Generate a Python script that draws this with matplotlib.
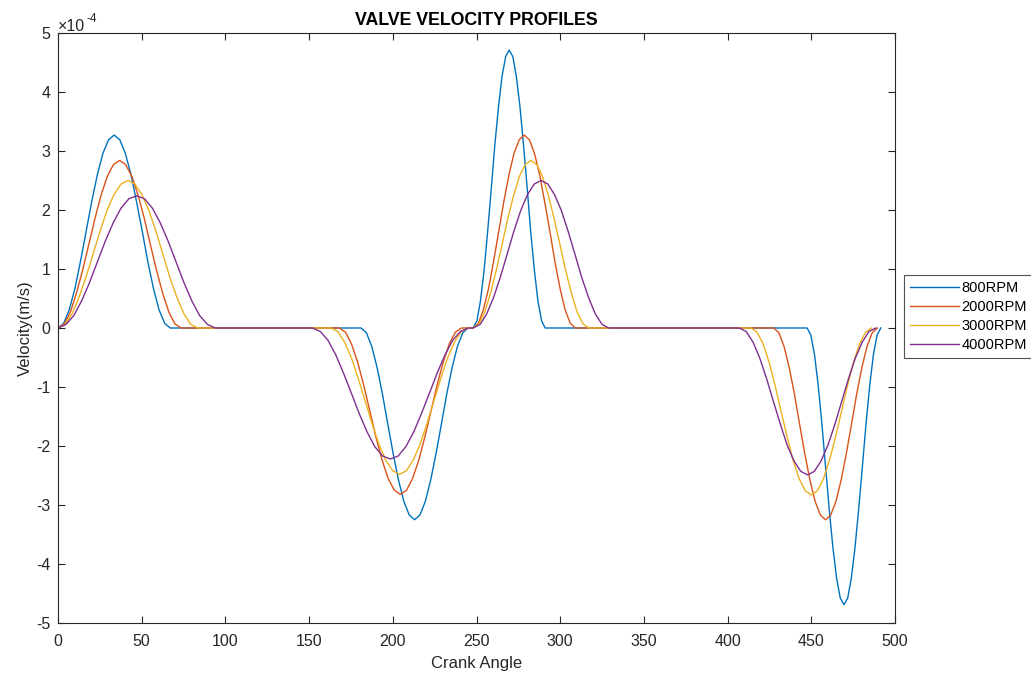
import matplotlib
import matplotlib.pyplot as plt
import numpy as np
from matplotlib.ticker import FuncFormatter

matplotlib.use("Agg")

plt.rcParams["font.family"] = ["Liberation Sans", "DejaVu Sans"]
plt.rcParams["axes.unicode_minus"] = False

# crank angle [deg] and valve velocity [1e-4 m/s]
angle_800 = [0, 3.4, 6.7, 10.1, 13.4, 16.8, 20.1, 23.5, 26.8, 30.2, 33.5, 36.9, 40.2, 43.6, 46.9, 50.3, 53.6, 57, 60.3, 63.7, 67,
             181, 184.2, 187.4, 190.6, 193.8, 197, 200.2, 203.4, 206.6, 209.8, 213, 216.2, 219.4, 222.6, 225.8, 229, 232.2, 235.4, 238.6, 241.8, 245,
             248, 250.2, 252.3, 254.5, 256.6, 258.8, 260.9, 263.1, 265.2, 267.4, 269.5, 271.7, 273.8, 276, 278.1, 280.3, 282.4, 284.6, 286.7, 288.9, 291,
             447.5, 449.7, 451.9, 454.1, 456.3, 458.5, 460.7, 462.9, 465.1, 467.3, 469.5, 471.7, 473.9, 476.1, 478.3, 480.5, 482.7, 484.9, 487.1, 489.3, 491.5]
vel_800 = [0, 0.08, 0.31, 0.67, 1.13, 1.64, 2.14, 2.60, 2.96, 3.19, 3.27, 3.19, 2.96, 2.60, 2.14, 1.64, 1.13, 0.67, 0.31, 0.08, 0,
           0, -0.08, -0.31, -0.67, -1.12, -1.63, -2.13, -2.58, -2.94, -3.17, -3.25, -3.17, -2.94, -2.58, -2.13, -1.63, -1.12, -0.67, -0.31, -0.08, 0,
           0, 0.12, 0.45, 0.97, 1.62, 2.36, 3.09, 3.74, 4.26, 4.60, 4.71, 4.60, 4.26, 3.74, 3.09, 2.36, 1.62, 0.97, 0.45, 0.12, 0,
           0, -0.12, -0.45, -0.97, -1.62, -2.35, -3.07, -3.72, -4.24, -4.58, -4.69, -4.58, -4.24, -3.72, -3.07, -2.35, -1.62, -0.97, -0.45, -0.12, 0]

angle_2000 = [0, 3.7, 7.4, 11, 14.7, 18.4, 22.1, 25.7, 29.4, 33.1, 36.8, 40.4, 44.1, 47.8, 51.5, 55.1, 58.8, 62.5, 66.2, 69.8, 73.5,
              168, 171.7, 175.3, 179, 182.6, 186.3, 189.9, 193.6, 197.2, 200.9, 204.5, 208.2, 211.8, 215.5, 219.1, 222.8, 226.4, 230.1, 233.7, 237.4, 241,
              248, 251.1, 254.1, 257.2, 260.2, 263.3, 266.3, 269.4, 272.4, 275.5, 278.5, 281.6, 284.6, 287.7, 290.7, 293.8, 296.8, 299.9, 302.9, 306, 309,
              427.5, 430.6, 433.7, 436.8, 439.9, 443, 446.1, 449.2, 452.3, 455.4, 458.5, 461.6, 464.7, 467.8, 470.9, 474, 477.1, 480.2, 483.3, 486.4, 489.5]
vel_2000 = [0, 0.07, 0.27, 0.59, 0.98, 1.42, 1.86, 2.25, 2.57, 2.77, 2.84, 2.77, 2.57, 2.25, 1.86, 1.42, 0.98, 0.59, 0.27, 0.07, 0,
            0, -0.07, -0.27, -0.58, -0.97, -1.41, -1.85, -2.24, -2.55, -2.75, -2.82, -2.75, -2.55, -2.24, -1.85, -1.41, -0.97, -0.58, -0.27, -0.07, 0,
            0, 0.08, 0.31, 0.67, 1.13, 1.64, 2.14, 2.60, 2.96, 3.19, 3.27, 3.19, 2.96, 2.60, 2.14, 1.64, 1.13, 0.67, 0.31, 0.08, 0,
            0, -0.08, -0.31, -0.67, -1.12, -1.63, -2.13, -2.58, -2.94, -3.17, -3.25, -3.17, -2.94, -2.58, -2.13, -1.63, -1.12, -0.67, -0.31, -0.08, 0]

angle_3000 = [0, 4.2, 8.4, 12.5, 16.7, 20.9, 25.1, 29.2, 33.4, 37.6, 41.8, 45.9, 50.1, 54.3, 58.5, 62.6, 66.8, 71, 75.2, 79.3, 83.5,
              163, 167.1, 171.2, 175.3, 179.4, 183.5, 187.6, 191.7, 195.8, 199.9, 204, 208.1, 212.2, 216.3, 220.4, 224.5, 228.6, 232.7, 236.8, 240.9, 245,
              248, 251.5, 254.9, 258.4, 261.8, 265.3, 268.7, 272.2, 275.6, 279.1, 282.5, 286, 289.4, 292.9, 296.3, 299.8, 303.2, 306.7, 310.1, 313.6, 317,
              414, 417.6, 421.2, 424.8, 428.4, 432, 435.6, 439.2, 442.8, 446.4, 450, 453.6, 457.2, 460.8, 464.4, 468, 471.6, 475.2, 478.8, 482.4, 486]
vel_3000 = [0, 0.06, 0.24, 0.52, 0.86, 1.25, 1.64, 1.99, 2.26, 2.44, 2.50, 2.44, 2.26, 1.99, 1.64, 1.25, 0.86, 0.52, 0.24, 0.06, 0,
            0, -0.06, -0.24, -0.51, -0.86, -1.24, -1.62, -1.97, -2.24, -2.42, -2.48, -2.42, -2.24, -1.97, -1.62, -1.24, -0.86, -0.51, -0.24, -0.06, 0,
            0, 0.07, 0.27, 0.59, 0.98, 1.42, 1.86, 2.25, 2.57, 2.77, 2.84, 2.77, 2.57, 2.25, 1.86, 1.42, 0.98, 0.59, 0.27, 0.07, 0,
            0, -0.07, -0.27, -0.58, -0.98, -1.42, -1.85, -2.25, -2.56, -2.76, -2.83, -2.76, -2.56, -2.25, -1.85, -1.42, -0.98, -0.58, -0.27, -0.07, 0]

angle_4000 = [0, 4.7, 9.4, 14.1, 18.8, 23.5, 28.2, 32.9, 37.6, 42.3, 47, 51.7, 56.4, 61.1, 65.8, 70.5, 75.2, 79.9, 84.6, 89.3, 94,
              152, 156.7, 161.3, 166, 170.6, 175.3, 179.9, 184.6, 189.2, 193.9, 198.5, 203.2, 207.8, 212.5, 217.1, 221.8, 226.4, 231.1, 235.7, 240.4, 245,
              248, 252.1, 256.1, 260.2, 264.2, 268.3, 272.3, 276.4, 280.4, 284.5, 288.5, 292.6, 296.6, 300.7, 304.7, 308.8, 312.8, 316.9, 320.9, 325, 329,
              407, 411.1, 415.2, 419.2, 423.3, 427.4, 431.5, 435.5, 439.6, 443.7, 447.8, 451.8, 455.9, 460, 464.1, 468.1, 472.2, 476.3, 480.4, 484.4, 488.5]
vel_4000 = [0, 0.06, 0.21, 0.46, 0.77, 1.12, 1.47, 1.78, 2.03, 2.19, 2.24, 2.19, 2.03, 1.78, 1.47, 1.12, 0.77, 0.46, 0.21, 0.06, 0,
            0, -0.06, -0.21, -0.46, -0.77, -1.11, -1.45, -1.76, -2.01, -2.17, -2.22, -2.17, -2.01, -1.76, -1.45, -1.11, -0.77, -0.46, -0.21, -0.06, 0,
            0, 0.06, 0.24, 0.52, 0.86, 1.25, 1.64, 1.99, 2.26, 2.44, 2.50, 2.44, 2.26, 1.99, 1.64, 1.25, 0.86, 0.52, 0.24, 0.06, 0,
            0, -0.06, -0.24, -0.51, -0.86, -1.25, -1.63, -1.98, -2.25, -2.43, -2.49, -2.43, -2.25, -1.98, -1.63, -1.25, -0.86, -0.51, -0.24, -0.06, 0]

labels = ["800RPM", "2000RPM", "3000RPM", "4000RPM"]
colors = ["#0072BD", "#D95319", "#EDB120", "#7E2F8E"]
text_col = "#262626"

fig = plt.figure(figsize=(10.31, 6.76), dpi=100)
ax = fig.add_axes([0.0563, 0.0784, 0.8118, 0.8728])

series = [(angle_800, vel_800), (angle_2000, vel_2000),
          (angle_3000, vel_3000), (angle_4000, vel_4000)]
for (ang, vel), lab, col in zip(series, labels, colors):
    ax.plot(ang, np.array(vel) * 1e-4, color=col, linewidth=1.0, label=lab)

ax.set_xlim(0, 500)
ax.set_ylim(-5e-4, 5e-4)
ax.set_xticks(np.arange(0, 501, 50))
ax.set_yticks(np.arange(-5e-4, 5.01e-4, 1e-4))
ax.yaxis.set_major_formatter(FuncFormatter(lambda v, p: f"{round(v * 1e4):d}"))

# MATLAB style exponent label above the y axis
ax.text(0.0, 0.999, "\u00d710", transform=ax.transAxes, ha="left", va="bottom",
        fontsize=11.5, color=text_col)
ax.text(0.034, 1.013, "-4", transform=ax.transAxes, ha="left", va="bottom",
        fontsize=8.5, color=text_col)

ax.tick_params(direction="in", top=True, right=True, length=5, width=0.8,
               colors=text_col, labelsize=11.5)
ax.tick_params(axis="x", pad=8)
ax.tick_params(axis="y", pad=5.5)
for sp in ax.spines.values():
    sp.set_color(text_col)
    sp.set_linewidth(0.8)

ax.set_xlabel("Crank Angle", fontsize=12, color=text_col, labelpad=5)
ax.set_ylabel("Velocity(m/s)", fontsize=12, color=text_col, labelpad=2)
ax.set_title("VALVE VELOCITY PROFILES", fontsize=12.8, fontweight="bold", pad=6)

leg = ax.legend(loc="center left", bbox_to_anchor=(904 / 1031, 1 - 316.5 / 676),
                bbox_transform=fig.transFigure, fontsize=10.5, frameon=True,
                fancybox=False, handlelength=3.4, handletextpad=0.15,
                labelspacing=0.34, borderpad=0.4, borderaxespad=0)
leg.get_frame().set_edgecolor(text_col)
leg.get_frame().set_linewidth(0.8)

plt.savefig("out.png", dpi=100)
plt.close()
